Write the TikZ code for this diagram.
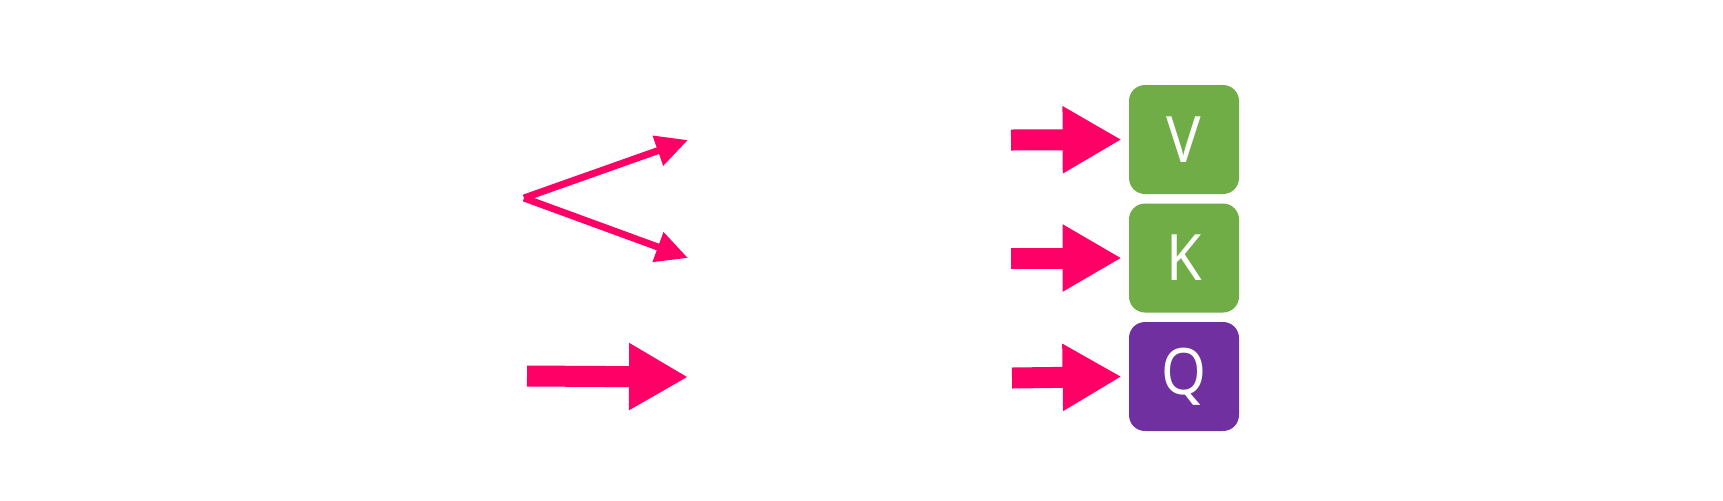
\documentclass[tikz,border=0pt]{standalone}
\usepackage{fontspec}
\newfontfamily\boxfont[FakeStretch=0.9]{Noto Sans}
\usetikzlibrary{arrows.meta}
\definecolor{arrowpink}{HTML}{FF0066}
\definecolor{vgreen}{HTML}{70AD47}
\definecolor{qpurple}{HTML}{7030A0}
\tikzset{
  letterbox/.style={draw=none, rounded corners=8pt, minimum width=55pt, minimum height=54.5pt,
    inner sep=0pt, text=white, font=\boxfont\fontsize{32}{32}\selectfont},
  bigarrow/.style={draw=arrowpink, line width=10.5pt,
    -{Triangle[length=29.5pt,width=31.5pt]}},
  thinarrow/.style={draw=arrowpink, line width=3.5pt,
    -{Triangle[length=16pt,width=15pt]}}
}
\begin{document}
\begin{tikzpicture}[x=0.5pt,y=-0.5pt]
\useasboundingbox[fill=white] (0,0) rectangle (1723,500);
\node[letterbox, fill=vgreen] (V) at (1184,139.5) {V};
\node[letterbox, fill=vgreen] (K) at (1184,258) {K};
\node[letterbox, fill=qpurple] (Q) at (1184,376.5) {Q};
\coordinate (va) at (1011,140);
\coordinate (ka) at (1011,258);
\coordinate (qa) at (1012,378);
\draw[bigarrow, shorten >=3.5pt] (va) -- (V.west);
\draw[bigarrow, shorten >=3.5pt] (ka) -- (K.west);
\draw[bigarrow, shorten >=3.5pt] (qa) -- (Q.west);
\coordinate (ls) at (527,376);
\coordinate (le) at (688,377);
\draw[bigarrow] (ls) -- (le);
\coordinate (fork) at (524,198);
\coordinate (fu) at (688,140);
\coordinate (fd) at (688,258);
\draw[thinarrow] (fork) -- (fu);
\draw[thinarrow] (fork) -- (fd);
\end{tikzpicture}
\end{document}
